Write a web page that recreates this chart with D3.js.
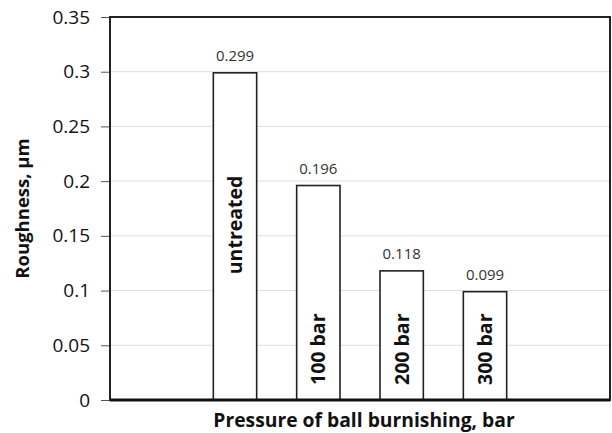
<!DOCTYPE html>
<html>
<head>
<meta charset="utf-8">
<script src="https://cdn.jsdelivr.net/npm/d3@7"></script>
<style>
  body { margin: 0; background: #fff; }
  text { font-family: "Open Sans", sans-serif; }
</style>
</head>
<body>
<div id="chart"></div>
<script>
// Data
const categories = ["untreated", "100 bar", "200 bar", "300 bar"];
const roughness = [0.299, 0.196, 0.118, 0.099];
const valueLabels = ["0.299", "0.196", "0.118", "0.099"];
const yTicks = [0, 0.05, 0.1, 0.15, 0.2, 0.25, 0.3, 0.35];
const yTickLabels = ["0", "0.05", "0.1", "0.15", "0.2", "0.25", "0.3", "0.35"];

const width = 612, height = 433;
const frame = { left: 110, right: 610, top: 17, bottom: 400 };

const svg = d3.select("#chart").append("svg")
    .attr("width", width)
    .attr("height", height);

const y = d3.scaleLinear().domain([0, 0.35]).range([frame.bottom, frame.top]);

// bars sit in the middle four of six equal slots
const slot = (frame.right - frame.left) / 6;
const x = d3.scaleBand()
    .domain(categories)
    .range([frame.left + slot, frame.right - slot])
    .paddingInner(0.48)
    .paddingOuter(0.24);

// gridlines
svg.append("g")
    .selectAll("line")
    .data(yTicks.slice(1, -1))
    .join("line")
    .attr("x1", frame.left)
    .attr("x2", frame.right)
    .attr("y1", d => y(d))
    .attr("y2", d => y(d))
    .attr("stroke", "#dedede")
    .attr("stroke-width", 1);

// y axis ticks + labels
const yAxis = d3.axisLeft(y)
    .tickValues(yTicks)
    .tickSize(9)
    .tickPadding(11)
    .tickFormat((d, i) => yTickLabels[i]);

svg.append("g")
    .attr("transform", `translate(${frame.left},0)`)
    .call(yAxis)
    .call(g => g.select(".domain").remove())
    .call(g => g.selectAll(".tick line").attr("stroke", "#555"))
    .call(g => g.selectAll(".tick text")
        .attr("fill", "#111")
        .style("font-size", "19px")
        .style("font-family", "'Open Sans', sans-serif"));

// bars
svg.append("g")
    .selectAll("rect")
    .data(categories)
    .join("rect")
    .attr("x", d => x(d))
    .attr("y", (d, i) => y(roughness[i]))
    .attr("width", x.bandwidth())
    .attr("height", (d, i) => y(0) - y(roughness[i]))
    .attr("fill", "#fff")
    .attr("stroke", "#222")
    .attr("stroke-width", 1.6);

// value labels above bars
svg.append("g")
    .selectAll("text")
    .data(categories)
    .join("text")
    .attr("x", d => x(d) + x.bandwidth() / 2)
    .attr("y", (d, i) => y(roughness[i]) - 12)
    .attr("text-anchor", "middle")
    .attr("fill", "#333")
    .style("font-size", "15px")
    .text((d, i) => valueLabels[i]);

// rotated labels inside bars
svg.append("g")
    .selectAll("text")
    .data(categories)
    .join("text")
    .attr("transform", (d, i) => {
        const cx = x(d) + x.bandwidth() / 2 + 7;
        // first label sits in the upper part, the others near the base
        const cy = i === 0 ? y(0.16) : y(0) - 15;
        return `translate(${cx},${cy}) rotate(-90)`;
    })
    .attr("text-anchor", (d, i) => i === 0 ? "middle" : "start")
    .attr("fill", "#111")
    .style("font-size", "19.5px")
    .style("font-weight", "bold")
    .text(d => d);

// frame
svg.append("rect")
    .attr("x", frame.left)
    .attr("y", frame.top)
    .attr("width", frame.right - frame.left)
    .attr("height", frame.bottom - frame.top)
    .attr("fill", "none")
    .attr("stroke", "#222")
    .attr("stroke-width", 2);

svg.append("line")
    .attr("x1", frame.left)
    .attr("x2", frame.right)
    .attr("y1", frame.bottom)
    .attr("y2", frame.bottom)
    .attr("stroke", "#111")
    .attr("stroke-width", 3);

// axis titles
svg.append("text")
    .attr("transform", `translate(29,${(frame.top + frame.bottom) / 2}) rotate(-90)`)
    .attr("text-anchor", "middle")
    .attr("fill", "#111")
    .style("font-size", "18.5px")
    .style("font-weight", "bold")
    .text("Roughness, µm");

svg.append("text")
    .attr("x", 364)
    .attr("y", 427)
    .attr("text-anchor", "middle")
    .attr("fill", "#111")
    .style("font-size", "19.3px")
    .style("font-weight", "bold")
    .text("Pressure of ball burnishing, bar");
</script>
</body>
</html>
